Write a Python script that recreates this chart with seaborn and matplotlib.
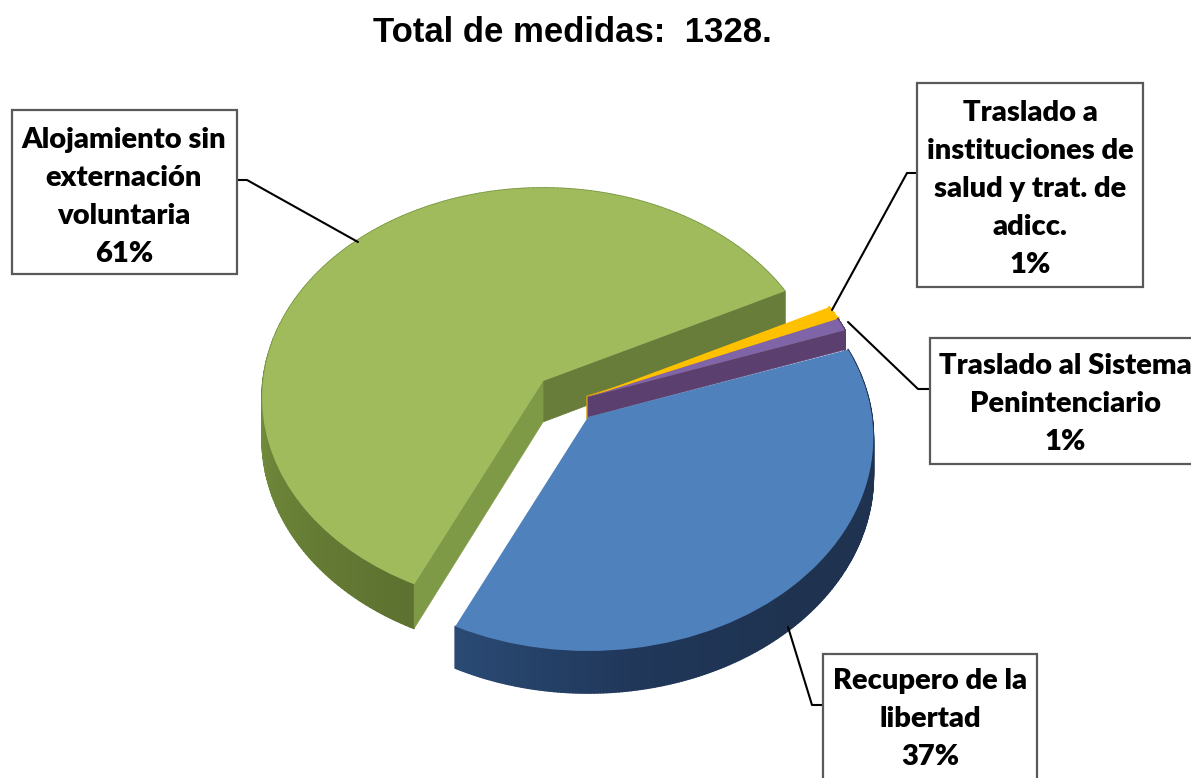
import numpy as np
import seaborn as sns
import matplotlib
matplotlib.use('Agg')
import matplotlib.pyplot as plt
import matplotlib.transforms as mtransforms
from matplotlib.collections import PolyCollection
from matplotlib.patches import Rectangle

# data
categories = ['Alojamiento sin\nexternación\nvoluntaria',
              'Recupero de la\nlibertad',
              'Traslado al Sistema\nPenintenciario',
              'Traslado a\ninstituciones de\nsalud y trat. de\nadicc.']
values = [805, 496, 13, 14]  # estimated counts, total 1328
title = 'Total de medidas:  1328.'

top_colors = ['#9fbb5c', '#4f81bd', '#8064a8', '#ffc000']
rim_colors = [['#7d9a45', '#6b8338', '#5d7130'],
              ['#2a4a74', '#20375a', '#1f3350', '#1f3350', '#1f3350'],
              ['#5b3f6f', '#5b3f6f'],
              ['#ffc000', '#ffc000']]
wall_colors = [('#687d39', '#7f9a47'), ('#2f5483', '#2f5483'),
               ('#5b3f6f', '#5b3f6f'), ('#d89f10', '#ffc000')]

# layout in picture pixels: apex of each slice, thickness, disc shape, label box
apexes = [(543, 381), (588, 417), (588, 397), (588, 397)]
depths = [41, 38, 20, 20]
disc_rx = [280, 284, 279, 279]
disc_ry = [208.5, 211.5, 208.5, 208.5]
disc_tilt = [0.08, 0.096, 0.08, 0.08]
boxes = [(12, 110, 237, 274), (823, 654, 1037, 790),
         (930, 338, 1200, 464), (917, 83, 1143, 287)]
leaders = [[(237, 180), (247, 180), (358, 242)],
           [(823, 705), (812, 705), (788, 627)],
           [(930, 389), (918, 389), (848, 322)],
           [(917, 173), (907, 173), (832, 310)]]
label_x = [124, 930, 1065, 1030]
label_y = [197, 719, 404, 189]
START = 26.5


class Tilt(mtransforms.Transform):
    # disc seen from above, near side bigger than far side
    input_dims = 2
    output_dims = 2

    def __init__(self, i, drop=0):
        super().__init__()
        self.i, self.drop = i, drop

    def transform_non_affine(self, xy):
        xy = np.asarray(xy, dtype=float)
        i = self.i
        w = 1 + disc_tilt[i] * xy[:, 1]
        return np.column_stack([apexes[i][0] + disc_rx[i] * xy[:, 0] / w,
                                apexes[i][1] - (disc_ry[i] * xy[:, 1] - self.drop) / w])


def disc(theta):
    t = np.radians(theta)
    return np.column_stack([np.cos(t), np.sin(t)])


sns.set_theme(style='white')
plt.rcParams['font.family'] = ['Lato', 'DejaVu Sans']

fig = plt.figure(figsize=(11.91, 7.78), dpi=100)
ax = fig.add_axes([0, 0, 1, 1])
wedges, _ = ax.pie(values, colors=top_colors, startangle=START,
                   wedgeprops=dict(linewidth=0))
ax.set_aspect('auto')
ax.set_xlim(0, 1191)
ax.set_ylim(778, 0)
ax.set_frame_on(False)

# draw order: green, orange, purple, blue
for order, i in enumerate([0, 3, 2, 1]):
    wedge = wedges[i]
    top = Tilt(i)
    low = Tilt(i, depths[i])
    base = order * 3 + 1

    # outer rim
    thetas = np.linspace(wedge.theta1, wedge.theta2, 240)
    a, b = top.transform(disc(thetas)), low.transform(disc(thetas))
    quads = [[a[j], a[j + 1], b[j + 1], b[j]] for j in range(len(thetas) - 1)]
    # the shading only runs over the part of the rim that faces the viewer
    shade = sns.blend_palette(rim_colors[i], n_colors=len(quads))
    if i == 0:
        shade = sns.blend_palette(rim_colors[i], n_colors=90)
        shade = [rim_colors[i][0]] * (len(quads) - 90) + shade
    ax.add_collection(PolyCollection(quads, facecolors=shade, edgecolors=shade,
                                     linewidths=1.2, zorder=base))

    # cut faces that look at the viewer
    origin = np.array([[0.0, 0.0]])
    for theta, normal, col in [(wedge.theta1, wedge.theta1 - 90, wall_colors[i][0]),
                               (wedge.theta2, wedge.theta2 + 90, wall_colors[i][1])]:
        if np.sin(np.radians(normal)) < 0:
            rim = disc([theta])
            quad = np.vstack([top.transform(origin), top.transform(rim),
                              low.transform(rim), low.transform(origin)])
            ax.fill(quad[:, 0], quad[:, 1], color=col, lw=2.5 if i == 3 else 0.5,
                    zorder=base + 1)

    wedge.set_transform(top + ax.transData)
    wedge.set_zorder(base + 2)

# leaders and label boxes
total = sum(values)
for i, name in enumerate(categories):
    pts = np.array(leaders[i])
    ax.plot(pts[:, 0], pts[:, 1], color='black', lw=1.5, zorder=20)
    x0, y0, x1, y1 = boxes[i]
    ax.add_patch(Rectangle((x0, y0), x1 - x0, y1 - y0, facecolor='white',
                           edgecolor='#595959', lw=1.6, zorder=21))
    ax.text(label_x[i], label_y[i], '%s\n%d%%' % (name, round(100 * values[i] / total)),
            ha='center', va='center', fontsize=21, fontweight=800, color='black',
            linespacing=1.58, zorder=22)

ax.text(572, 32, title, ha='center', va='center', fontsize=25, fontweight='bold',
        family=['Liberation Sans', 'DejaVu Sans'], color='black')

plt.savefig('out.png', dpi=100)
